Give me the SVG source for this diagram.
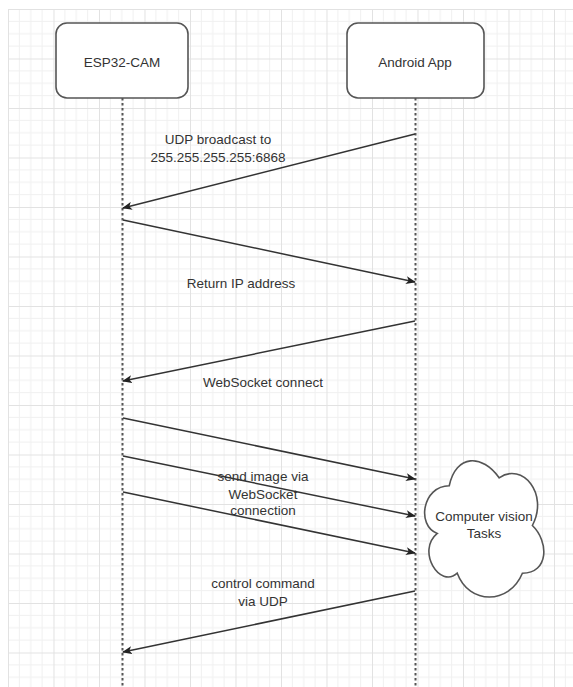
<svg xmlns="http://www.w3.org/2000/svg" width="573" height="687" viewBox="0 0 573 687">
  <style>
    .box { fill: #ffffff; stroke: #555555; stroke-width: 1.6; }
    .life { stroke: #555555; stroke-width: 2; stroke-dasharray: 2.5 2.5; fill: none; }
    .msg { stroke: #333333; stroke-width: 1.5; fill: none; marker-end: url(#arrow); }
    .lbl { font-family: "Liberation Sans", Arial, sans-serif; font-size: 13.5px; fill: #333333; text-anchor: middle; }
    .minor { stroke: #f0f0f0; stroke-width: 1; }
    .major { stroke: #e2e2e2; stroke-width: 1; }
  </style>
  <defs>
    <pattern id="grid" x="8" y="9" width="45.5" height="49.5" patternUnits="userSpaceOnUse">
      <line class="minor" x1="11.375" y1="0" x2="11.375" y2="49.5"/>
      <line class="minor" x1="22.75" y1="0" x2="22.75" y2="49.5"/>
      <line class="minor" x1="34.125" y1="0" x2="34.125" y2="49.5"/>
      <line class="minor" x1="0" y1="12.375" x2="45.5" y2="12.375"/>
      <line class="minor" x1="0" y1="24.75" x2="45.5" y2="24.75"/>
      <line class="minor" x1="0" y1="37.125" x2="45.5" y2="37.125"/>
      <line class="major" x1="0.5" y1="0" x2="0.5" y2="49.5"/>
      <line class="major" x1="0" y1="0.5" x2="45.5" y2="0.5"/>
    </pattern>
    <marker id="arrow" markerWidth="10" markerHeight="8" refX="9" refY="4" orient="auto" markerUnits="userSpaceOnUse">
      <path d="M0,0 L10,4 L0,8 L2.5,4 Z" fill="#222222"/>
    </marker>
  </defs>

  <rect x="0" y="0" width="573" height="687" fill="#ffffff"/>
  <rect x="8" y="9" width="565" height="678" fill="url(#grid)"/>

  <g id="lifelines">
    <line class="life" x1="122.5" y1="98" x2="122.5" y2="687"/>
    <line class="life" x1="415.5" y1="98" x2="415.5" y2="687"/>
  </g>

  <g id="esp32">
    <rect class="box" x="56" y="23" width="132" height="75" rx="11"/>
    <text class="lbl" x="122" y="67">ESP32-CAM</text>
  </g>

  <g id="android">
    <rect class="box" x="347" y="23" width="137" height="75" rx="11"/>
    <text class="lbl" x="415" y="67">Android App</text>
  </g>

  <g id="connectors">
    <line class="msg" x1="415" y1="134" x2="123" y2="208"/>
    <line class="msg" x1="123" y1="220" x2="415" y2="282"/>
    <line class="msg" x1="415" y1="321" x2="123" y2="381"/>
    <line class="msg" x1="123" y1="418" x2="415" y2="479"/>
    <line class="msg" x1="123" y1="456" x2="415" y2="516"/>
    <line class="msg" x1="123" y1="492" x2="415" y2="553"/>
    <line class="msg" x1="415" y1="591" x2="123" y2="652"/>
  </g>

  <g id="labels">
    <text class="lbl" x="218" y="144">UDP broadcast to</text>
    <text class="lbl" x="218" y="162">255.255.255.255:6868</text>
    <text class="lbl" x="241" y="288">Return IP address</text>
    <text class="lbl" x="263" y="387">WebSocket connect</text>
    <text class="lbl" x="263" y="481">send image via</text>
    <text class="lbl" x="263" y="499">WebSocket</text>
    <text class="lbl" x="263" y="515">connection</text>
    <text class="lbl" x="263" y="588">control command</text>
    <text class="lbl" x="263" y="606">via UDP</text>
  </g>

  <g id="cloud">
    <path class="box" d="M449.25,485.75 C422.65,485.75 416,525.5 437.28,533.45 C416,550.94 439.94,589.1 457.23,573.2 C469.2,605 509.1,605 522.4,573.2 C549,573.2 549,541.4 532.375,525.5 C549,493.7 522.4,461.9 499.125,477.8 C482.5,453.95 455.9,453.95 449.25,485.75 Z"/>
    <text class="lbl" x="484" y="521">Computer vision</text>
    <text class="lbl" x="484" y="538">Tasks</text>
  </g>
</svg>
